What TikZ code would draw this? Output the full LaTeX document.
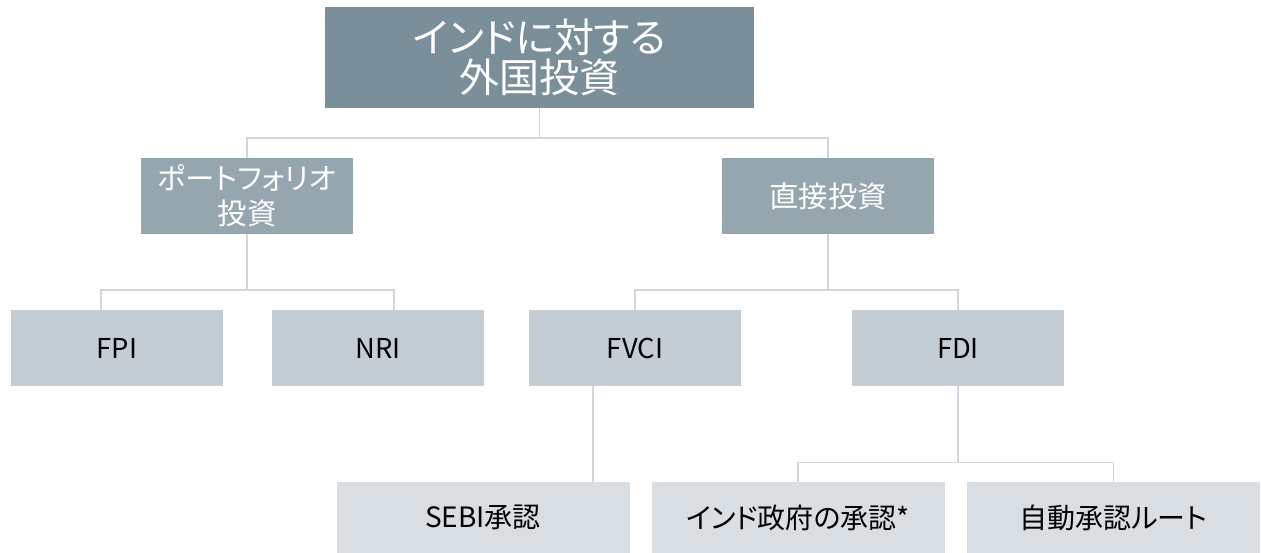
\documentclass[tikz,border=0pt]{standalone}
\usepackage{fontspec}
\setmainfont{Noto Sans CJK JP}[RawFeature=+palt]
\definecolor{rootgray}{HTML}{7B8F9B}
\definecolor{midgray}{HTML}{96A6AF}
\definecolor{lowgray}{HTML}{C5CDD4}
\definecolor{leafgray}{HTML}{D9DEE2}
\definecolor{linegray}{HTML}{D0D6DB}
\begin{document}
\begin{tikzpicture}[x=0.75pt,y=-0.75pt,
    box/.style={rectangle,inner sep=0pt,align=center},
    rootbox/.style={box,fill=rootgray,text=white,minimum width=321.75pt,minimum height=75.75pt,font=\fontsize{30}{30}\selectfont},
    midbox/.style={box,fill=midgray,text=white,minimum width=159pt,minimum height=57pt,font=\fontsize{22}{26}\selectfont},
    lowbox/.style={box,fill=lowgray,text=black,minimum width=159pt,minimum height=57pt,font=\fontsize{20.5}{22}\selectfont},
    leafbox/.style={box,fill=leafgray,text=black,minimum width=219.75pt,minimum height=53.25pt,font=\fontsize{21}{22}\selectfont},
    link/.style={draw=linegray,line width=1.1pt}]
    \useasboundingbox (0,0) rectangle (1261,553);
    \node [rootbox] (root) at (539.5,57.5) {インドに対する\\外国投資};
    \node [midbox] (pf) at (247,196) {ポートフォリオ\\投資};
    \node [midbox] (di) at (828,196) {直接投資};
    \node [lowbox] (fpi) at (117,348) {FPI};
    \node [lowbox] (nri) at (378,348) {NRI};
    \node [lowbox] (fvci) at (635,348) {FVCI};
    \node [lowbox] (fdi) at (958,348) {FDI};
    \node [leafbox] (sebi) at (483,517.5) {SEBI承認};
    \node [leafbox] (gov) at (798,517.5) {インド政府の承認*};
    \node [leafbox] (autoroute) at (1113.5,517.5) {自動承認ルート};
    \draw [link] (root.south) -- ++(0,29.5) -| (pf.north);
    \draw [link] (root.south) -- ++(0,29.5) -| (di.north);
    \draw [link] (pf.south) -- ++(0,55.5) -| ([xshift=-12pt]fpi.north);
    \draw [link] (pf.south) -- ++(0,55.5) -| ([xshift=12pt]nri.north);
    \draw [link] (di.south) -- ++(0,55.5) -| (fvci.north);
    \draw [link] (di.south) -- ++(0,55.5) -| (fdi.north);
    \draw [link] ([xshift=-31.5pt]fvci.south) -- ([xshift=-31.5pt]fvci.south |- sebi.north);
    \draw [link] (fdi.south) -- ++(0,76) -| (gov.north);
    \draw [link] (fdi.south) -- ++(0,76) -| (autoroute.north);
\end{tikzpicture}
\end{document}
